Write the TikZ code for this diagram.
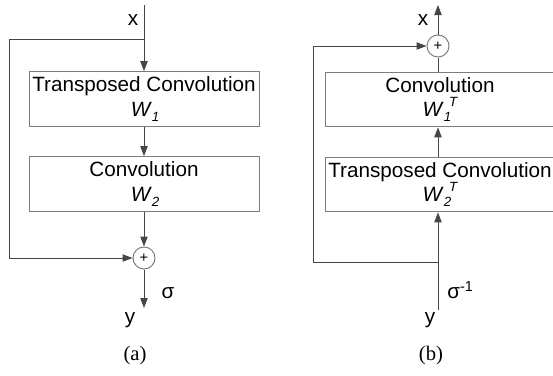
\documentclass[tikz,border=0pt]{standalone}
\usepackage{fontspec}
\setmainfont{Liberation Serif}
\setsansfont{Liberation Sans}
\usetikzlibrary{arrows.meta}

% weight label: W with lowered index and optional raised mark
\newcommand{\wlab}[2]{\textit{W}\raisebox{-0.45ex}{\fontsize{10}{12}\selectfont\itshape #1}%
    \kern-0.1em\raisebox{1.0ex}{\fontsize{10}{12}\selectfont\itshape #2}}

\begin{document}
\begin{tikzpicture}[x=0.75pt, y=-0.75pt]

% --- colors ---
\definecolor{linecol}{RGB}{70,70,70}
\definecolor{boxcol}{RGB}{125,125,125}

% --- styles ---
\tikzset{
    txt/.style={font=\sffamily\fontsize{15.5}{18.6}\selectfont, inner sep=0pt},
    layer/.style={txt, draw=boxcol, line width=0.75pt, align=center,
        minimum width=172.5pt, minimum height=41pt},
    sum/.style={circle, draw=boxcol, line width=0.75pt, minimum size=16.5pt,
        inner sep=0pt, font=\sffamily\fontsize{11}{12}\selectfont},
    wire/.style={draw=linecol, line width=0.75pt},
    arr/.style={wire, -{Triangle[length=7.5pt, width=5.5pt]}},
    panelcap/.style={font=\rmfamily\fontsize{15.5}{18.6}\selectfont, anchor=base}
}

\useasboundingbox (0,0) rectangle (553,375);
\clip (0,0) rectangle (553,375);

% --- (a) forward block ---
\coordinate (atop)   at (144,5);
\coordinate (asplit) at (144,39);
\coordinate (aleft)  at (9,258);
\coordinate (aout)   at (144,308);

\node[layer] (aT) at (144,99)  {Transposed Convolution\\\wlab{1}{}};
\node[layer] (aC) at (144,184) {Convolution\\\wlab{2}{}};
\node[sum] (aplus) at (144,258) {+};

\draw[arr] (atop) -- (aT);
\draw[arr] (asplit) -| (aleft) -- (aplus);
\draw[arr] (aT) -- (aC);
\draw[arr] (aC) -- (aplus);
\draw[arr] (aplus) -- (aout);

\node[txt, anchor=base] (ax)   at (133,25)  {x};
\node[txt, anchor=base] (asig) at (168,298) {σ};
\node[txt, anchor=base] (ay)   at (130,323) {y};
\node[panelcap] (acap) at (135,360) {(a)};

% --- (b) inverse block ---
\coordinate (btop)   at (438,5);
\coordinate (bsplit) at (438,262);
\coordinate (bleft)  at (313,46);
\coordinate (bin)    at (438,310);

\node[sum] (bplus) at (438,46) {+};
\node[layer] (bC) at (440,99.5)  {Convolution\\\wlab{1}{T}};
\node[layer] (bT) at (440,184.5) {Transposed Convolution\\\wlab{2}{T}};

\draw[arr] (bplus) -- (btop);
\draw[wire] (bC.north -| bplus) -- (bplus);
\draw[arr] (bT.north -| bplus) -- (bC.south -| bplus);
\draw[arr] (bin) -- (bT.south -| bin);
\draw[arr] (bsplit) -| (bleft) -- (bplus);

\node[txt, anchor=base] (bx)   at (423,25)  {x};
\node[txt, anchor=base west] (bsig) at (447,298) {σ\textsuperscript{-1}};
\node[txt, anchor=base] (by)   at (430,323) {y};
\node[panelcap] (bcap) at (431,360) {(b)};

\end{tikzpicture}
\end{document}
